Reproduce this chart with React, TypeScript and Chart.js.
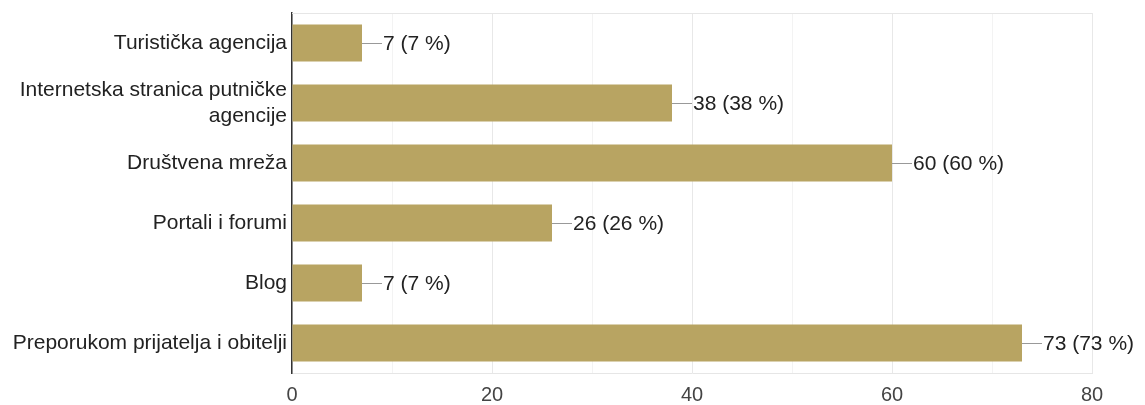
import React, { useEffect, useRef } from "react";
import { Chart, registerables } from "chart.js";

Chart.register(...registerables);

const categories: (string | string[])[] = [
  "Turistička agencija",
  ["Internetska stranica putničke", "agencije"],
  "Društvena mreža",
  "Portali i forumi",
  "Blog",
  "Preporukom prijatelja i obitelji",
];
const counts = [7, 38, 60, 26, 7, 73];
const percents = [7, 38, 60, 26, 7, 73];
const xMax = 80;

const FONT = "Arial, 'Liberation Sans', sans-serif";

const labelPlugin = {
  id: "valueLabels",
  afterDatasetsDraw(chart: any) {
    const ctx = chart.ctx;
    const meta = chart.getDatasetMeta(0);
    ctx.save();
    meta.data.forEach((bar: any, i: number) => {
      const x = bar.x;
      const y = bar.y;
      ctx.strokeStyle = "#999999";
      ctx.lineWidth = 1;
      ctx.beginPath();
      ctx.moveTo(x, Math.round(y) + 0.5);
      ctx.lineTo(x + 20, Math.round(y) + 0.5);
      ctx.stroke();
      ctx.fillStyle = "#222222";
      ctx.font = `21px ${FONT}`;
      ctx.textAlign = "left";
      ctx.textBaseline = "middle";
      ctx.fillText(`${counts[i]} (${percents[i]} %)`, x + 21, y + 1);
    });
    ctx.restore();
  },
  beforeDatasetsDraw(chart: any) {
    const { ctx, chartArea } = chart;
    ctx.save();
    ctx.strokeStyle = "#e6e6e6";
    ctx.lineWidth = 1;
    ctx.beginPath();
    ctx.moveTo(chartArea.left, chartArea.top + 0.5);
    ctx.lineTo(chartArea.right, chartArea.top + 0.5);
    ctx.stroke();
    ctx.restore();
  },
};

export default function App() {
  const ref = useRef<HTMLCanvasElement | null>(null);
  useEffect(() => {
    if (!ref.current) return;
    const chart = new Chart(ref.current, {
      type: "bar",
      data: {
        labels: categories,
        datasets: [
          {
            data: counts,
            backgroundColor: "#b8a462",
            barPercentage: 0.62,
            categoryPercentage: 1,
          },
        ],
      },
      options: {
        indexAxis: "y",
        animation: false,
        responsive: false,
        maintainAspectRatio: false,
        layout: { padding: { top: 13, right: 53, bottom: 0, left: 0 } },
        plugins: { legend: { display: false }, tooltip: { enabled: false } },
        scales: {
          x: {
            min: 0,
            max: xMax,
            afterFit: (s: any) => {
              s.height = 32;
            },
            ticks: {
              stepSize: 10,
              color: "#444444",
              font: { size: 20, family: FONT },
              padding: 10,
              maxRotation: 0,
              callback: (v: any) => (Number(v) % 20 === 0 ? String(v) : ""),
            },
            grid: {
              color: (c: any) =>
                c.tick && c.tick.value % 20 === 0 ? "#e8e8e8" : "#f3f3f3",
              drawTicks: false,
            },
            border: { color: "#e6e6e6" },
          },
          y: {
            afterFit: (s: any) => {
              s.width = 292;
              s.paddingTop = 0;
              s.paddingBottom = 0;
            },
            ticks: {
              color: "#222222",
              font: { size: 21, family: FONT, lineHeight: 1.25 },
              padding: 5,
            },
            grid: { display: false, drawTicks: false },
            border: { color: "#333333", width: 1.5 },
          },
        },
      },
      plugins: [labelPlugin],
    });
    return () => chart.destroy();
  }, []);
  return (
    <div style={{ position: "fixed", left: 0, top: 0, width: 1145, height: 405, background: "#fff" }}>
      <canvas ref={ref} width={1145} height={405} style={{ width: 1145, height: 405 }} />
    </div>
  );
}
